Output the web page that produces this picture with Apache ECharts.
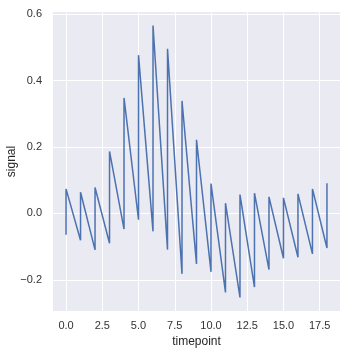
<!DOCTYPE html>
<html><head><meta charset="utf-8">
<script src="https://cdn.jsdelivr.net/npm/echarts@6/dist/echarts.min.js"></script>
<style>html,body{margin:0;padding:0;background:#fff}#c{width:352px;height:352px}</style>
</head><body><div id="c"></div>
<script>
var timepoints = [0,1,2,3,4,5,6,7,8,9,10,11,12,13,14,15,16,17,18];
var lowSignal = [-0.064,-0.081,-0.110,-0.090,-0.047,-0.019,-0.054,-0.109,-0.182,-0.152,-0.176,-0.238,-0.253,-0.222,-0.169,-0.135,-0.132,-0.122,-0.104];
var highSignal = [0.074,0.064,0.078,0.187,0.348,0.477,0.566,0.496,0.339,0.222,0.090,0.031,0.057,0.061,0.050,0.047,0.059,0.074,0.091];
var xTicks = [0,2.5,5,7.5,10,12.5,15,17.5];
var yTicks = [-0.2,0,0.2,0.4,0.6];

var data = [];
for (var i = 0; i < timepoints.length; i++) {
  data.push([timepoints[i], lowSignal[i]]);
  data.push([timepoints[i], highSignal[i]]);
}
var font = 'Liberation Sans, Arial, sans-serif';
var chart = echarts.init(document.getElementById('c'));
chart.setOption({
  animation: false,
  backgroundColor: '#ffffff',
  grid: {left: 53, right: 12, top: 12, bottom: 41, show: true, backgroundColor: '#eaeaf2', borderWidth: 0,
    containLabel: false, outerBoundsMode: 'none'},
  xAxis: {
    type: 'value', min: -0.9, max: 18.9,
    name: 'timepoint', nameLocation: 'middle', nameGap: 25, nameMoveOverlap: false,
    nameTextStyle: {color: '#262626', fontSize: 12, fontFamily: font},
    axisLine: {show: false}, axisTick: {show: false, customValues: xTicks},
    axisLabel: {customValues: xTicks, color: '#333333', fontSize: 11, fontFamily: font, margin: 9,
      formatter: function(v){return v.toFixed(1);}},
    splitLine: {show: true, lineStyle: {color: '#ffffff', width: 1}}
  },
  yAxis: {
    type: 'value', min: -0.294, max: 0.607,
    name: 'signal', nameLocation: 'middle', nameGap: 35, nameRotate: 90, nameMoveOverlap: false,
    nameTextStyle: {color: '#262626', fontSize: 12, fontFamily: font},
    axisLine: {show: false}, axisTick: {show: false, customValues: yTicks},
    axisLabel: {customValues: yTicks, color: '#333333', fontSize: 11, fontFamily: font, margin: 11,
      formatter: function(v){return (v < 0 ? '\u2212' + Math.abs(v).toFixed(1) : v.toFixed(1));}},
    splitLine: {show: true, lineStyle: {color: '#ffffff', width: 1}}
  },
  series: [{
    type: 'line', data: data, showSymbol: false, symbol: 'none',
    lineStyle: {color: '#4c72b0', width: 1.5}, z: 3
  }]
});
</script></body></html>
